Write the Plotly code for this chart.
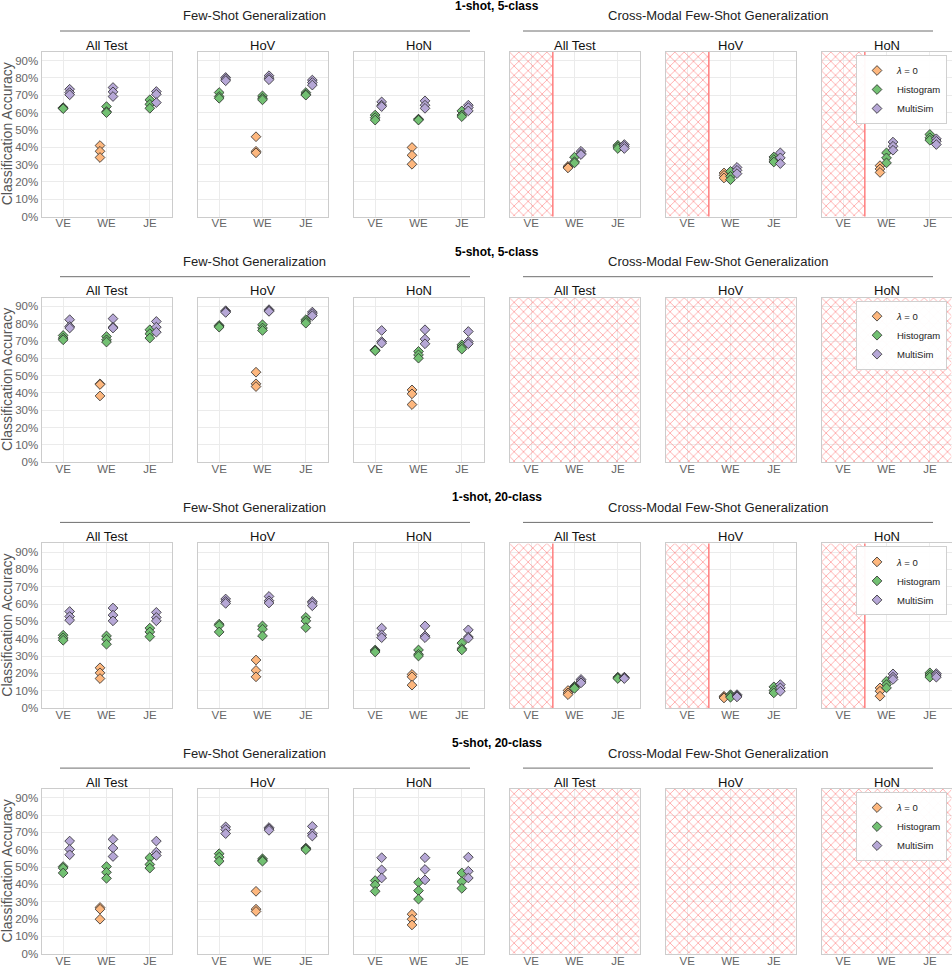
import plotly.graph_objects as go

# ---------------- data ----------------
CATEGORIES = ["VE", "WE", "JE"]
PANELS = ["All Test", "HoV", "HoN"]
GROUPS = ["Few-Shot Generalization", "Cross-Modal Few-Shot Generalization"]
ROW_TITLES = ["1-shot, 5-class", "5-shot, 5-class", "1-shot, 20-class", "5-shot, 20-class"]
METHODS = ["<i>λ</i> = 0", "Histogram", "MultiSim"]
Y_TICKS = [0, 10, 20, 30, 40, 50, 60, 70, 80, 90]
# whether cross-modal results exist for a row (VE never exists cross-modally)
CROSS_MODAL_AVAILABLE = [True, False, True, False]
CROSS_MODAL_MISSING = ["VE"]

# values: [panel][category] -> runs (%)
# panels: FS All Test, FS HoV, FS HoN, CM All Test, CM HoV, CM HoN ; categories VE, WE, JE
s1c5_lambda0 = [
    [[], [41.0, 37.7, 34.1], []],
    [[], [46.1, 37.7, 36.8], []],
    [[], [39.9, 35.4, 30.2], []],
    [[], [29.0, 28.5, 28.1], []],
    [[], [25.2, 23.8, 22.3], []],
    [[], [29.4, 27.5, 25.5], []],
]
s1c5_hist = [
    [[62.9, 62.6, 62.3], [63.5, 60.6, 60.0], [67.4, 64.8, 62.5]],
    [[71.6, 69.3, 68.3], [69.7, 68.3, 67.4], [71.6, 70.6, 70.1]],
    [[58.6, 57.1, 55.7], [56.3, 56.0, 55.7], [61.0, 58.6, 57.7]],
    [[], [34.3, 31.7, 31.0], [41.2, 40.3, 39.3]],
    [[], [26.1, 23.2, 21.3], [34.4, 32.9, 31.5]],
    [[], [36.8, 33.9, 31.0], [47.4, 45.5, 44.1]],
]
s1c5_multisim = [
    [[73.5, 71.6, 70.3], [74.5, 72.0, 69.3], [72.2, 70.6, 65.8]],
    [[80.3, 79.4, 78.4], [81.3, 79.9, 79.0], [78.8, 77.4, 75.9]],
    [[66.2, 64.3, 63.5], [66.8, 64.3, 62.5], [64.3, 62.9, 61.0]],
    [[], [37.7, 36.4, 35.8], [41.6, 40.6, 39.3]],
    [[], [28.4, 26.7, 24.8], [36.8, 33.9, 30.6]],
    [[], [43.0, 40.6, 38.3], [44.9, 43.5, 41.6]],
]

s5c5_lambda0 = [
    [[], [45.3, 44.9, 38.3], []],
    [[], [52.0, 45.3, 43.7], []],
    [[], [41.8, 39.5, 33.3], []],
    [[], [], []], [[], [], []], [[], [], []],
]
s5c5_hist = [
    [[73.2, 71.7, 70.7], [72.6, 70.7, 69.4], [76.5, 74.2, 71.7]],
    [[79.0, 78.5, 78.0], [79.4, 77.5, 76.1], [82.3, 81.3, 80.3]],
    [[64.9, 64.6, 64.4], [64.0, 62.0, 60.1], [67.8, 66.5, 65.3]],
    [[], [], []], [[], [], []], [[], [], []],
]
s5c5_multisim = [
    [[82.3, 78.4, 77.5], [82.9, 78.0, 77.5], [81.3, 78.0, 75.1]],
    [[87.5, 87.0, 86.5], [88.1, 87.5, 87.1], [86.7, 85.7, 84.6]],
    [[76.1, 69.7, 68.8], [76.5, 71.1, 68.4], [75.5, 69.7, 68.4]],
    [[], [], []], [[], [], []], [[], [], []],
]

s1c20_lambda0 = [
    [[], [23.2, 20.3, 17.0], []],
    [[], [27.7, 21.7, 18.0], []],
    [[], [19.4, 18.0, 13.2], []],
    [[], [10.1, 8.7, 7.7], []],
    [[], [6.8, 6.2, 5.8], []],
    [[], [11.6, 9.7, 6.8], []],
]
s1c20_hist = [
    [[42.0, 40.5, 39.1], [41.6, 39.7, 36.8], [46.1, 43.9, 41.2]],
    [[48.4, 47.6, 43.9], [47.4, 45.5, 41.6], [52.3, 50.3, 46.4]],
    [[33.5, 32.9, 32.3], [33.5, 31.0, 30.0], [37.5, 34.3, 33.5]],
    [[], [12.5, 11.9, 11.3], [17.8, 17.4, 17.0]],
    [[], [7.7, 7.0, 6.2], [12.2, 10.1, 8.7]],
    [[], [15.5, 13.5, 11.6], [20.3, 19.0, 17.8]],
]
s1c20_multisim = [
    [[55.7, 52.8, 50.7], [57.7, 53.6, 50.3], [55.2, 52.3, 50.3]],
    [[62.9, 61.5, 60.4], [64.4, 61.9, 60.6], [61.5, 60.6, 59.0]],
    [[46.1, 42.2, 40.6], [47.4, 41.6, 40.6], [45.1, 41.0, 40.3]],
    [[], [16.5, 15.5, 14.5], [17.8, 17.4, 17.0]],
    [[], [7.7, 7.0, 6.4], [13.5, 11.6, 9.7]],
    [[], [19.7, 17.8, 16.5], [19.9, 19.0, 17.8]],
]

s5c20_lambda0 = [
    [[], [26.7, 25.7, 19.9], []],
    [[], [36.0, 25.7, 24.4], []],
    [[], [22.8, 19.9, 16.6], []],
    [[], [], []], [[], [], []], [[], [], []],
]
s5c20_hist = [
    [[50.3, 49.4, 46.6], [50.3, 47.0, 43.5], [55.4, 51.5, 49.4]],
    [[57.7, 55.7, 53.4], [54.8, 54.0, 53.4], [61.0, 60.5, 60.0]],
    [[42.2, 39.7, 36.0], [41.2, 36.4, 31.5], [46.6, 41.6, 37.7]],
    [[], [], []], [[], [], []], [[], [], []],
]
s5c20_multisim = [
    [[65.0, 60.2, 57.1], [66.0, 61.0, 56.1], [65.0, 58.6, 56.7]],
    [[73.2, 71.6, 69.3], [72.8, 72.0, 71.2], [73.5, 69.3, 67.9]],
    [[55.4, 48.4, 43.7], [55.4, 48.6, 42.6], [55.7, 47.6, 43.7]],
    [[], [], []], [[], [], []], [[], [], []],
]

ROW_DATA = [
    [s1c5_lambda0, s1c5_hist, s1c5_multisim],
    [s5c5_lambda0, s5c5_hist, s5c5_multisim],
    [s1c20_lambda0, s1c20_hist, s1c20_multisim],
    [s5c20_lambda0, s5c20_hist, s5c20_multisim],
]

# ---------------- style ----------------
COLORS = ["#FDB77E", "#72C072", "#B6A7D6"]
DODGE = [-0.15, 0.0, 0.15]
FONT = "Liberation Sans, Arial, sans-serif"
W, H = 952, 966
LEFT, PW, PSTEP = 41.5, 130, 156
TOP0, ROW_STEP, PH = 52, 245.7, 164.6
Y_MAX = 95
GRID = "#ebebeb"
BORDER = "#cccccc"
TICK_COLOR = "#666666"
HATCH = "rgba(255,110,110,0.6)"
GROUP_LINES = [(60, 470), (523, 933)]


def fx(px):
    return px / W


def fy(py):
    return 1 - py / H


fig = go.Figure()
layout = dict(
    width=W, height=H,
    margin=dict(l=0, r=0, t=0, b=0),
    paper_bgcolor="white", plot_bgcolor="white",
    font=dict(family=FONT, color="#222222"),
    showlegend=True,
    barmode="overlay",
)
annotations = []
shapes = []

for r in range(4):
    top = TOP0 + ROW_STEP * r
    bottom = top + PH
    legend_id = "legend" if r == 0 else f"legend{r + 1}"
    for p in range(6):
        k = r * 6 + p + 1
        xa = "x" if k == 1 else f"x{k}"
        ya = "y" if k == 1 else f"y{k}"
        x0 = LEFT + PSTEP * p
        layout["xaxis" if k == 1 else f"xaxis{k}"] = dict(
            domain=[fx(x0), fx(x0 + PW)], anchor=ya,
            range=[0.5, 3.5], tickmode="array",
            tickvals=[i + 1 for i in range(len(CATEGORIES))], ticktext=CATEGORIES,
            showgrid=True, gridcolor=GRID, gridwidth=1, zeroline=False,
            showline=True, mirror=True, linecolor=BORDER, linewidth=1,
            ticks="", ticklabelstandoff=-4,
            tickfont=dict(size=11.5, color=TICK_COLOR, family=FONT),
            fixedrange=True, automargin=False,
        )
        layout["yaxis" if k == 1 else f"yaxis{k}"] = dict(
            domain=[fy(bottom), fy(top)], anchor=xa,
            range=[0, Y_MAX], tickmode="array",
            tickvals=Y_TICKS, ticktext=[f"{v}%" for v in Y_TICKS],
            showticklabels=(p == 0),
            showgrid=True, gridcolor=GRID, gridwidth=1, zeroline=False,
            showline=True, mirror=True, linecolor=BORDER, linewidth=1,
            ticks="", tickfont=dict(size=11.5, color=TICK_COLOR, family=FONT),
            fixedrange=True, automargin=False,
        )

        # hatched regions for unavailable cross-modal results
        if p >= 3:
            if CROSS_MODAL_AVAILABLE[r]:
                idx = [CATEGORIES.index(c) for c in CROSS_MODAL_MISSING]
            else:
                idx = list(range(len(CATEGORIES)))
            lo, hi = min(idx) + 1, max(idx) + 1
            fig.add_trace(go.Bar(
                x=[(lo + hi) / 2], y=[Y_MAX], base=0, width=[hi - lo + 1],
                marker=dict(color="rgba(0,0,0,0)", line=dict(width=0),
                            pattern=dict(shape="x", size=6.6, solidity=0.25,
                                         fgcolor=HATCH, bgcolor="rgba(0,0,0,0)",
                                         fillmode="replace")),
                showlegend=False, hoverinfo="skip", xaxis=xa, yaxis=ya,
            ))
            if CROSS_MODAL_AVAILABLE[r]:
                shapes.append(dict(type="line", xref=xa, yref=f"{ya} domain",
                                   x0=hi + 0.5, x1=hi + 0.5, y0=0, y1=1,
                                   line=dict(color="rgba(255,120,120,0.95)", width=1.5),
                                   layer="above"))

        # points
        for m in range(3):
            vals = ROW_DATA[r][m][p]
            xs, ys = [], []
            for ci, runs in enumerate(vals):
                for v in runs:
                    xs.append(ci + 1 + DODGE[m])
                    ys.append(v)
            fig.add_trace(go.Scatter(
                x=xs, y=ys, mode="markers", name=METHODS[m],
                marker=dict(symbol="diamond", size=7.5, color=COLORS[m],
                            line=dict(color="#2a2a2a", width=0.8)),
                showlegend=(p == 0), legend=legend_id, legendgroup=f"{r}-{m}",
                xaxis=xa, yaxis=ya, hoverinfo="x+y",
            ))

        # panel title
        annotations.append(dict(
            text=PANELS[p % 3], x=fx(x0 + PW / 2), y=fy(top - 7),
            xref="paper", yref="paper", showarrow=False,
            xanchor="center", yanchor="middle",
            font=dict(size=13, color="#111111", family=FONT),
        ))

    # row title
    annotations.append(dict(
        text=f"<b>{ROW_TITLES[r]}</b>", x=fx(LEFT + (5 * PSTEP + PW) / 2), y=fy(top - 46),
        xref="paper", yref="paper", showarrow=False, xanchor="center", yanchor="middle",
        font=dict(size=12, color="#000000", family=FONT),
    ))
    # group titles and lines
    for g in range(2):
        lx0, lx1 = GROUP_LINES[g]
        annotations.append(dict(
            text=GROUPS[g], x=fx((lx0 + lx1) / 2 - 10.5), y=fy(top - 36),
            xref="paper", yref="paper", showarrow=False, xanchor="center", yanchor="middle",
            font=dict(size=13, color="#222222", family=FONT),
        ))
        shapes.append(dict(type="line", xref="paper", yref="paper",
                           x0=fx(lx0), x1=fx(lx1), y0=fy(top - 21), y1=fy(top - 21),
                           line=dict(color="#6e6e6e", width=1)))
    # y-axis title
    annotations.append(dict(
        text="Classification Accuracy", x=fx(7), y=fy(top + PH / 2),
        xref="paper", yref="paper", showarrow=False, xanchor="center", yanchor="middle",
        textangle=-90, font=dict(size=14, color="#555555", family=FONT),
    ))
    # legend
    layout[legend_id] = dict(
        x=fx(947), y=fy(top + 3), xanchor="right", yanchor="top",
        bgcolor="rgba(255,255,255,0.95)", bordercolor="#d0d0d0", borderwidth=1,
        font=dict(size=9.5, color="#222222", family=FONT),
        tracegroupgap=0, itemwidth=30,
    )

layout["annotations"] = annotations
layout["shapes"] = shapes
fig.update_layout(**layout)
fig.write_html(
    "out.html",
    config={"displayModeBar": False},
    post_script="document.body.style.margin='0';document.body.style.overflow='hidden';",
)
